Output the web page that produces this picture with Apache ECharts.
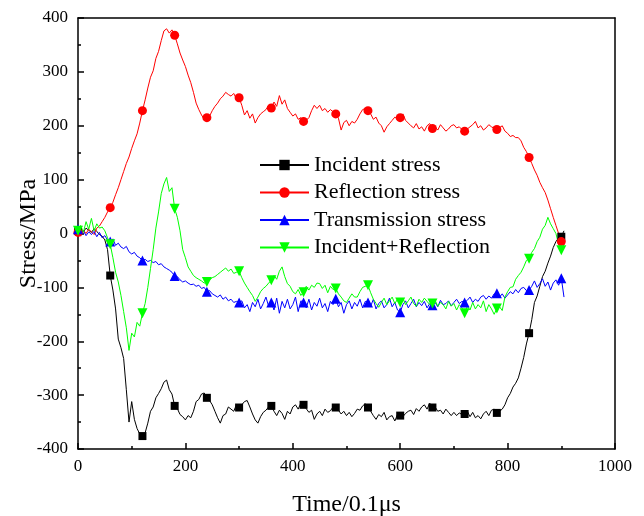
<!DOCTYPE html>
<html>
<head>
<meta charset="utf-8">
<script src="https://cdn.jsdelivr.net/npm/echarts@6/dist/echarts.min.js"></script>
<style>
  html, body { margin: 0; padding: 0; background: #fff; }
  #chart { width: 644px; height: 516px; }
</style>
</head>
<body>
<div id="chart"></div>
<script>
// sample times (0.1 us)
const times = [
  0,5,10,15,20,25,30,35,40,45,50,55,60,65,70,75,80,85,90,95,
  100,105,110,115,120,125,130,135,140,145,150,155,160,165,170,175,180,185,190,195,
  200,205,210,215,220,225,230,235,240,245,250,255,260,265,270,275,280,285,290,295,
  300,305,310,315,320,325,330,335,340,345,350,355,360,365,370,375,380,385,390,395,
  400,405,410,415,420,425,430,435,440,445,450,455,460,465,470,475,480,485,490,495,
  500,505,510,515,520,525,530,535,540,545,550,555,560,565,570,575,580,585,590,595,
  600,605,610,615,620,625,630,635,640,645,650,655,660,665,670,675,680,685,690,695,
  700,705,710,715,720,725,730,735,740,745,750,755,760,765,770,775,780,785,790,795,
  800,805,810,815,820,825,830,835,840,845,850,855,860,865,870,875,880,885,890,895,
  900,905
];

const incident = [
  5,8,3,10,6,2,9,4,-2,-5,-12,-30,-78,-105,-140,-196,-212,-232,-290,-350,
  -312,-345,-362,-372,-376,-370,-352,-330,-322,-305,-297,-288,-276,-272,-290,-298,-320,-325,-336,-340,
  -346,-338,-342,-330,-312,-308,-298,-296,-305,-310,-318,-330,-342,-352,-338,-335,-322,-326,-330,-318,
  -323,-318,-312,-310,-322,-335,-346,-352,-340,-332,-328,-322,-320,-330,-338,-328,-334,-345,-330,-335,
  -322,-318,-326,-315,-318,-325,-332,-328,-345,-335,-330,-338,-326,-332,-329,-322,-323,-328,-335,-330,
  -338,-332,-340,-334,-326,-328,-320,-316,-323,-330,-338,-345,-336,-340,-332,-346,-340,-338,-348,-336,
  -338,-340,-334,-330,-328,-336,-325,-330,-322,-318,-326,-315,-323,-322,-330,-328,-335,-326,-332,-338,
  -332,-338,-333,-336,-335,-330,-340,-332,-342,-338,-344,-335,-330,-338,-328,-326,-333,-330,-326,-318,
  -305,-297,-285,-278,-268,-250,-230,-205,-185,-160,-128,-116,-98,-80,-70,-55,-42,-26,-15,-8,
  -6,5
];

const reflection = [
  2,-5,6,0,8,3,-2,10,14,22,30,40,48,58,72,85,100,115,130,142,
  158,172,185,205,228,248,270,290,302,325,338,358,376,380,372,378,368,352,335,322,
  310,294,280,262,242,230,220,212,215,218,228,236,242,250,255,262,258,255,260,250,
  252,238,220,228,214,222,205,215,222,226,230,238,233,244,236,256,240,248,232,225,
  218,222,212,215,208,210,215,228,238,232,238,228,232,225,230,226,222,214,192,206,
  210,200,208,205,212,222,230,232,228,222,212,216,205,200,188,198,204,210,216,212,
  215,222,210,205,200,196,204,194,198,190,200,204,195,198,192,202,196,190,194,200,
  202,196,198,193,190,194,198,202,208,196,200,192,196,202,198,195,193,196,200,190,
  186,180,182,178,178,172,160,152,141,130,118,108,95,85,76,62,46,30,15,0,
  -15,-20
];

const transmission = [
  8,0,5,-4,3,-2,4,-6,2,-8,-4,-12,-15,-10,-22,-18,-25,-28,-24,-34,
  -38,-35,-42,-45,-50,-48,-52,-50,-54,-52,-58,-56,-62,-65,-68,-72,-79,-80,-86,-90,
  -88,-92,-95,-94,-98,-96,-102,-100,-108,-106,-112,-115,-118,-114,-122,-118,-125,-122,-128,-126,
  -128,-125,-138,-132,-145,-128,-136,-122,-140,-130,-118,-135,-128,-142,-120,-148,-126,-138,-122,-140,
  -132,-118,-145,-125,-128,-138,-122,-142,-128,-135,-120,-138,-130,-145,-126,-132,-121,-136,-128,-148,
  -132,-125,-140,-128,-135,-122,-138,-126,-128,-135,-122,-140,-130,-125,-138,-132,-120,-136,-128,-142,
  -146,-132,-125,-138,-130,-122,-136,-128,-134,-126,-138,-130,-133,-128,-136,-124,-132,-130,-125,-134,
  -128,-122,-130,-126,-128,-124,-118,-128,-122,-126,-118,-115,-122,-116,-120,-112,-111,-118,-112,-120,
  -114,-108,-112,-104,-110,-102,-100,-106,-105,-98,-88,-100,-93,-84,-98,-90,-105,-92,-86,-96,
  -83,-118
];

const incidentPlusReflection = [
  5,15,2,22,8,28,5,18,10,12,5,-8,-20,-45,-72,-90,-115,-145,-175,-217,
  -185,-192,-165,-172,-148,-130,-100,-65,-30,10,40,74,92,104,78,85,46,30,5,-30,
  -45,-62,-70,-78,-82,-85,-88,-92,-90,-86,-82,-80,-76,-72,-68,-64,-70,-66,-74,-72,
  -70,-82,-92,-100,-108,-115,-126,-118,-108,-102,-98,-92,-87,-78,-85,-70,-62,-80,-93,-98,
  -108,-112,-104,-115,-109,-98,-105,-96,-100,-92,-93,-102,-96,-110,-98,-104,-102,-112,-118,-125,
  -128,-120,-112,-118,-118,-108,-100,-98,-96,-110,-122,-130,-137,-128,-120,-132,-125,-118,-130,-122,
  -128,-120,-132,-125,-118,-130,-135,-122,-128,-120,-126,-132,-130,-124,-135,-128,-132,-140,-126,-135,
  -130,-142,-132,-138,-148,-135,-142,-128,-140,-132,-138,-125,-145,-132,-140,-150,-139,-136,-143,-118,
  -108,-100,-99,-85,-78,-72,-62,-50,-47,-35,-28,-15,-7,8,15,30,18,9,0,-20,
  -31,-20
];

const seriesNames = ["Incident stress", "Reflection stress", "Transmission stress", "Incident+Reflection"];
const xTicks = { min: 0, max: 1000, interval: 200 };
const yTicks = { min: -400, max: 400, interval: 100 };

const FONT = "Liberation Serif";
const MARK_EVERY = 12; // one marker per 60 time units

function pairs(vals) {
  return times.map((t, i) => [t, vals[i]]);
}

function markerSize(size) {
  return (val, p) => (p.dataIndex % MARK_EVERY === 0 ? size : 0);
}

function lineSeries(name, vals, color, symbol, size, rotate) {
  return {
    name: name,
    type: "line",
    data: pairs(vals),
    symbol: symbol,
    symbolSize: markerSize(size),
    symbolRotate: rotate || 0,
    showSymbol: true,
    lineStyle: { color: color, width: 1 },
    itemStyle: { color: color },
    z: 2,
  };
}

const chart = echarts.init(document.getElementById("chart"));

const axisLine = { show: true, onZero: false, lineStyle: { color: "#000", width: 1.5 } };

chart.setOption({
  animation: false,
  backgroundColor: "#fff",
  grid: { left: 78, right: 29, top: 18, bottom: 67, outerBoundsMode: "none", containLabel: false },
  legend: {
    orient: "vertical",
    left: 254,
    top: 149,
    itemWidth: 49,
    itemHeight: 13,
    itemGap: 5.5,
    data: seriesNames,
    textStyle: { fontFamily: FONT, fontSize: 22, color: "#000" },
  },
  xAxis: [
    {
      type: "value",
      min: xTicks.min, max: xTicks.max, interval: xTicks.interval,
      name: "Time/0.1\u03bcs",
      nameLocation: "middle",
      nameGap: 44,
      nameMoveOverlap: false,
      nameTextStyle: { fontFamily: FONT, fontSize: 24, color: "#000" },
      axisLine: axisLine,
      axisTick: { inside: true, length: 6, lineStyle: { color: "#000", width: 1.5 } },
      minorTick: { show: true, splitNumber: 2, length: 3, lineStyle: { color: "#000", width: 1.5 } },
      axisLabel: { fontFamily: FONT, fontSize: 17, color: "#000", margin: 9, formatter: v => String(v) },
      splitLine: { show: false },
    },
    {
      type: "value", position: "top",
      min: xTicks.min, max: xTicks.max,
      axisLine: axisLine,
      axisTick: { show: false },
      axisLabel: { show: false },
      splitLine: { show: false },
    },
  ],
  yAxis: [
    {
      type: "value",
      min: yTicks.min, max: yTicks.max, interval: yTicks.interval,
      name: "Stress/MPa",
      nameLocation: "middle",
      nameRotate: 90,
      nameGap: 37,
      nameMoveOverlap: false,
      nameTextStyle: { fontFamily: FONT, fontSize: 24, color: "#000" },
      axisLine: axisLine,
      axisTick: { inside: true, length: 6, lineStyle: { color: "#000", width: 1.5 } },
      minorTick: { show: true, splitNumber: 2, length: 3, lineStyle: { color: "#000", width: 1.5 } },
      axisLabel: { fontFamily: FONT, fontSize: 17, color: "#000", margin: 10, formatter: v => String(v) },
      splitLine: { show: false },
    },
    {
      type: "value", position: "right",
      min: yTicks.min, max: yTicks.max,
      axisLine: axisLine,
      axisTick: { show: false },
      axisLabel: { show: false },
      splitLine: { show: false },
    },
  ],
  series: [
    lineSeries(seriesNames[0], incident, "#000000", "rect", 8),
    lineSeries(seriesNames[1], reflection, "#ff0000", "circle", 9),
    lineSeries(seriesNames[2], transmission, "#0000ff", "triangle", 10),
    lineSeries(seriesNames[3], incidentPlusReflection, "#00ff00", "triangle", 10, 180),
  ],
});
</script>
</body>
</html>
